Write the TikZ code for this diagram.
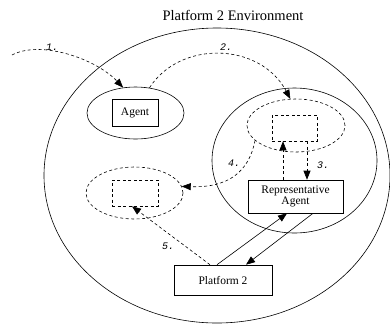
\documentclass[tikz,border=0pt]{standalone}
\usepackage{fontspec}
\setmainfont{Liberation Serif}
\newfontfamily\labelfont{Liberation Mono}
\usetikzlibrary{shapes.geometric,arrows.meta,calc}
\begin{document}
\begin{tikzpicture}[x=1pt,y=-1pt,
  line width=0.6pt,
  dsh/.style={dash pattern=on 3pt off 2.5pt},
  ell/.style={ellipse,draw,inner sep=0pt},
  box/.style={rectangle,draw,inner sep=0pt,font=\fontsize{11.5}{11}\selectfont,align=center},
  tip/.style={-{Triangle[length=9pt,width=7pt]}},
  lbl/.style={font=\labelfont\itshape\fontsize{10}{10}\selectfont,inner sep=0pt},
]
\useasboundingbox (0,0) rectangle (390,325);
% title
\node (title) at (233,15) {\fontsize{14.5}{15}\selectfont Platform 2 Environment};
% big environment ellipse
\node[ell,minimum width=346pt,minimum height=295pt] (env) at (217,175.5) {};
% agent
\node[ell,minimum width=97pt,minimum height=52pt] (agentE) at (135.5,113) {};
\node[box,minimum width=46pt,minimum height=27pt] (agent) at (135,112.5) {Agent};
% right solid ellipse
\node[ell,minimum width=165pt,minimum height=145pt] (rightE) at (294.5,160.5) {};
\node[ell,dsh,minimum width=98pt,minimum height=53pt] (topE) at (296,125.5) {};
\node[box,dsh,minimum width=45pt,minimum height=26pt] (dbox) at (294.5,128) {};
\node[box,minimum width=95pt,minimum height=33pt] (rep) at (295.5,196.5) {Representative\\Agent};
% left dashed
\node[ell,dsh,minimum width=97pt,minimum height=52pt] (leftE) at (134.5,193) {};
\node[box,dsh,minimum width=46pt,minimum height=26pt] (lbox) at (135,193) {};
% platform
\node[box,minimum width=98pt,minimum height=30pt] (plat) at (223,280) {Platform 2};
% free start of arrow 1
\coordinate (s1) at (12,55);
% arrow 1
\draw[dsh,tip] (s1) .. controls (40,40) and (95,58) .. (agentE.116);
% arrow 2
\draw[dsh,tip] (agentE.61) .. controls (180,40) and (260,42) .. (topE.102);
% arrow 3 and up arrow
\draw[dsh,tip] ($(dbox.south)+(12.5,0)$) -- ($(rep.north)+(11.5,0)$);
\draw[dsh,tip] ($(rep.north)+(-12.5,0)$) -- ($(dbox.south)+(-11.5,0)$);
% arrow 4
\draw[dsh,tip] (topE.200) .. controls (249,172) and (228,188) .. (leftE.8);
% arrow 5
\draw[dsh,tip] ($(plat.north)+(-13,0)$) -- ($(lbox.south)+(-3,0)$);
% solid arrows
\draw[tip] ($(plat.north)+(-6,0)$) -- ($(rep.south)+(-8.5,0)$);
\draw[tip] ($(rep.south)+(17.5,0)$) -- ($(plat.north)+(23,0)$);
% labels
\node[lbl] (l1) at (52,47) {1.};
\node[lbl] (l2) at (226,47) {2.};
\node[lbl] (l3) at (323,165) {3.};
\node[lbl] (l4) at (234,163) {4.};
\node[lbl] (l5) at (168,246) {5.};
\end{tikzpicture}
\end{document}
